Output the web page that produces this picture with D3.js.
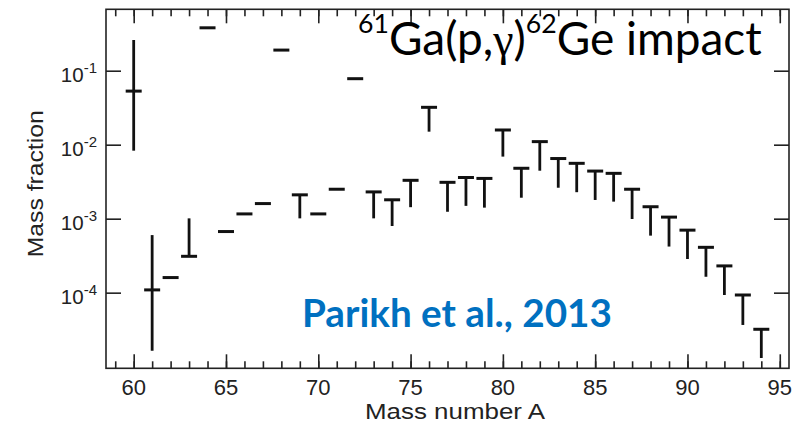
<!DOCTYPE html>
<html>
<head>
<meta charset="utf-8">
<script src="https://cdn.jsdelivr.net/npm/d3@7"></script>
<style>
  body { margin: 0; background: #fff; }
  .axis path { display: none; }
  .axis line { stroke: #222; stroke-width: 1.6; }
</style>
</head>
<body>
<div id="chart"></div>
<script>
// data
const massNumber = [60, 61, 62, 63, 64, 65, 66, 67, 68, 69, 70, 71, 72, 73, 74, 75, 76, 77,
                    78, 79, 80, 81, 82, 83, 84, 85, 86, 87, 88, 89, 90, 91, 92, 93, 94];
const massFraction = [0.053, 1.09e-4, 1.6e-4, 3.1e-4, 0.38, 6.7e-4, 1.16e-3, 1.6e-3, 0.19, 2.1e-3,
                      1.16e-3, 2.5e-3, 0.078, 2.3e-3, 1.8e-3, 3.3e-3, 0.032, 3.1e-3, 3.6e-3, 3.5e-3,
                      0.0158, 4.8e-3, 0.011, 6.5e-3, 5.6e-3, 4.4e-3, 4.1e-3, 2.5e-3, 1.45e-3, 1.05e-3,
                      7.0e-4, 4.1e-4, 2.3e-4, 9.3e-5, 3.2e-5];
// error range (null = no bar drawn)
const errLow = [0.0083, 1.64e-5, null, null, null, null, null, null, null, 1.01e-3,
                null, null, null, 1.01e-3, 7.96e-4, 1.43e-3, 0.015, 1.24e-3, 1.49e-3, 1.41e-3,
                6.9e-3, 1.92e-3, 4.45e-3, 2.62e-3, 2.28e-3, 1.79e-3, 1.70e-3, 9.9e-4, 5.9e-4, 4.2e-4,
                2.85e-4, 1.64e-4, 9.3e-5, 3.66e-5, 1.31e-5];
const errHigh = [0.26, 6.0e-4, null, 1.01e-3, null, null, null, null, null, null,
                 null, null, null, null, null, null, null, null, null, null,
                 null, null, null, null, null, null, null, null, null, null,
                 null, null, null, null, null];

const xMajorTicks = [60, 65, 70, 75, 80, 85, 90, 95];
const xMinorTicks = d3.range(59, 96);
const yTicks = [1e-1, 1e-2, 1e-3, 1e-4];
const yTickExp = ["-1", "-2", "-3", "-4"];

const xLabel = "Mass number A";
const yLabel = "Mass fraction";
const sourceLabel = "Parikh et al., 2013";

const W = 798, H = 434;
const margin = { top: 9.3, right: 9, bottom: 65.7, left: 106 };
const sansFont = "Liberation Sans, Arial, sans-serif";

const svg = d3.select("#chart").append("svg")
    .attr("width", W)
    .attr("height", H);

const x = d3.scaleLinear()
    .domain([58.5, 95.5])
    .range([margin.left, W - margin.right]);

const y = d3.scaleLog()
    .domain([9.5e-6, 0.676])
    .range([H - margin.bottom, margin.top]);

const x0 = margin.left, x1 = W - margin.right;
const y0 = margin.top, y1 = H - margin.bottom;

// ticks (all pointing inward)
svg.append("g").attr("class", "axis")
    .attr("transform", `translate(0,${y1})`)
    .call(d3.axisBottom(x).tickValues(xMinorTicks).tickSize(-7).tickFormat(""));
svg.append("g").attr("class", "axis")
    .attr("transform", `translate(0,${y1})`)
    .call(d3.axisBottom(x).tickValues(xMajorTicks).tickSize(-14).tickFormat(""));
svg.append("g").attr("class", "axis")
    .attr("transform", `translate(0,${y0})`)
    .call(d3.axisTop(x).tickValues(xMinorTicks).tickSize(-7).tickFormat(""));
svg.append("g").attr("class", "axis")
    .attr("transform", `translate(0,${y0})`)
    .call(d3.axisTop(x).tickValues(xMajorTicks).tickSize(-14).tickFormat(""));
svg.append("g").attr("class", "axis")
    .attr("transform", `translate(${x0},0)`)
    .call(d3.axisLeft(y).tickValues(yTicks).tickSize(-15).tickFormat(""));
svg.append("g").attr("class", "axis")
    .attr("transform", `translate(${x1},0)`)
    .call(d3.axisRight(y).tickValues(yTicks).tickSize(-15).tickFormat(""));

// frame
svg.append("rect")
    .attr("x", x0).attr("y", y0)
    .attr("width", x1 - x0).attr("height", y1 - y0)
    .attr("fill", "none")
    .attr("stroke", "#222")
    .attr("stroke-width", 1.6);

// x tick labels
svg.append("g").selectAll("text")
    .data(xMajorTicks)
    .enter().append("text")
    .attr("x", d => x(d))
    .attr("y", y1 + 27)
    .attr("text-anchor", "middle")
    .attr("font-family", sansFont)
    .attr("font-size", 22)
    .attr("fill", "#222")
    .text(d => d);

// y tick labels: 10^n
const yLab = svg.append("g").selectAll("text")
    .data(yTicks)
    .enter().append("text")
    .attr("x", 97)
    .attr("y", d => y(d) + 11)
    .attr("text-anchor", "end")
    .attr("font-family", sansFont)
    .attr("fill", "#222");
yLab.append("tspan").attr("font-size", 20.5).text("10");
yLab.append("tspan").attr("font-size", 15).attr("dy", -9).text((d, i) => yTickExp[i]);

// axis titles
svg.append("text")
    .attr("x", 455)
    .attr("y", y1 + 51)
    .attr("text-anchor", "middle")
    .attr("font-family", sansFont)
    .attr("font-size", 22.5)
    .attr("textLength", 180)
    .attr("lengthAdjust", "spacingAndGlyphs")
    .attr("fill", "#222")
    .text(xLabel);

svg.append("text")
    .attr("transform", `translate(43,${(y0 + y1) / 2 - 5}) rotate(-90)`)
    .attr("text-anchor", "middle")
    .attr("font-family", sansFont)
    .attr("font-size", 22.5)
    .attr("textLength", 147)
    .attr("lengthAdjust", "spacingAndGlyphs")
    .attr("fill", "#222")
    .text(yLabel);

// data marks
const pts = massNumber.map((a, i) => ({ a: a, v: massFraction[i], lo: errLow[i], hi: errHigh[i] }));

svg.append("g").selectAll("line")
    .data(pts.filter(d => d.lo !== null || d.hi !== null))
    .enter().append("line")
    .attr("x1", d => x(d.a)).attr("x2", d => x(d.a))
    .attr("y1", d => y(d.hi !== null ? d.hi : d.v))
    .attr("y2", d => y(d.lo !== null ? d.lo : d.v))
    .attr("stroke", "#111")
    .attr("stroke-width", 2.8);

svg.append("g").selectAll("line")
    .data(pts)
    .enter().append("line")
    .attr("x1", d => x(d.a) - 8).attr("x2", d => x(d.a) + 8)
    .attr("y1", d => y(d.v)).attr("y2", d => y(d.v))
    .attr("stroke", "#111")
    .attr("stroke-width", 3);

// fit a text node to a target width by scaling its font sizes
function fitText(build, size, targetW) {
    let t = build(size);
    const w = t.node().getBBox().width;
    t.remove();
    return build(size * targetW / w);
}

// title
fitText(function (s) {
    const t = svg.append("text")
        .attr("x", 358).attr("y", 55)
        .attr("font-family", "Lato, 'Open Sans', sans-serif")
        .attr("font-size", s)
        .attr("fill", "#000");
    t.append("tspan").attr("font-size", s * 0.58).attr("dy", -s * 0.48).text("61");
    t.append("tspan").attr("dy", s * 0.48).text("Ga(p,");
    t.append("tspan").attr("font-family", "Liberation Serif, serif").text("γ");
    t.append("tspan").text(")");
    t.append("tspan").attr("font-size", s * 0.58).attr("dy", -s * 0.48).text("62");
    t.append("tspan").attr("dy", s * 0.48).text("Ge impact");
    return t;
}, 36, 404);

// source label
fitText(function (s) {
    return svg.append("text")
        .attr("x", 302).attr("y", 327)
        .attr("font-family", "Lato, 'Open Sans', sans-serif")
        .attr("font-weight", "bold")
        .attr("font-size", s)
        .attr("fill", "#0070C0")
        .text(sourceLabel);
}, 34, 310);
</script>
</body>
</html>
